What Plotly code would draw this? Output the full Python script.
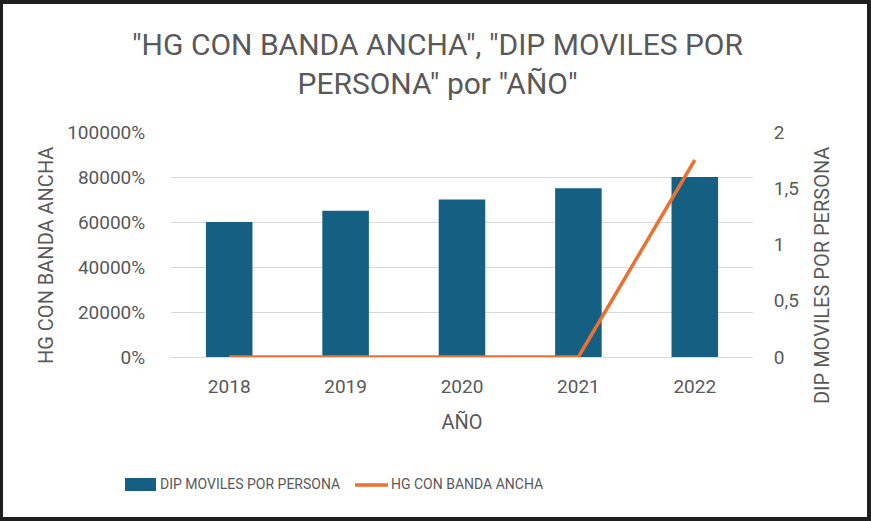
import plotly.graph_objects as go

# data
years = ["2018", "2019", "2020", "2021", "2022"]
dip_moviles = [1.2, 1.3, 1.4, 1.5, 1.6]       # right axis (bars)
hg_banda_ancha = [0, 0, 0, 0, 875.6]          # left axis, shown as percent (line)

bar_name = "DIP MOVILES POR PERSONA"
line_name = "HG CON BANDA ANCHA"
x_title = "AÑO"
chart_title = '"HG CON BANDA ANCHA", "DIP MOVILES POR<br>PERSONA" por "AÑO"'

W, H = 871, 521
L, R, T, B = 171, 118, 132, 164
TEXT = "#595959"
GRID = "#D9D9D9"
FONT = "Roboto"


def px_x(px):
    return (px - L) / (W - L - R)


def px_y(py):
    return (H - B - py) / (H - T - B)


fig = go.Figure()

fig.add_trace(go.Bar(
    x=years, y=dip_moviles, name=bar_name,
    marker=dict(color="#156082", line=dict(width=0)),
    yaxis="y",
))
fig.add_trace(go.Scatter(
    x=years, y=hg_banda_ancha, name=line_name, mode="lines",
    line=dict(color="#E97132", width=3.5),
    yaxis="y2",
))

# frame around the chart
shapes = [
    dict(type="rect", xref="paper", yref="paper", layer="below",
         x0=px_x(3), x1=px_x(867), y0=px_y(517), y1=px_y(4),
         fillcolor="white", line=dict(width=0)),
    # manual legend symbols
    dict(type="rect", xref="paper", yref="paper",
         x0=px_x(125), x1=px_x(156), y0=px_y(491), y1=px_y(478),
         fillcolor="#156082", line=dict(width=0)),
    dict(type="line", xref="paper", yref="paper",
         x0=px_x(355), x1=px_x(388), y0=px_y(485), y1=px_y(485),
         line=dict(color="#E97132", width=3.5)),
]

annotations = [
    dict(text=line_name, xref="paper", yref="paper", x=px_x(46), y=px_y(256),
         xanchor="center", yanchor="middle",
         textangle=-90, showarrow=False, font=dict(size=20, color=TEXT)),
    dict(text=bar_name, xref="paper", yref="paper", x=px_x(822), y=px_y(276),
         xanchor="center", yanchor="middle",
         textangle=-90, showarrow=False, font=dict(size=20, color=TEXT)),
    dict(text=bar_name, xref="paper", yref="paper", x=px_x(158), y=px_y(484),
         xanchor="left", yanchor="middle", showarrow=False, font=dict(size=14, color=TEXT)),
    dict(text=line_name, xref="paper", yref="paper", x=px_x(389), y=px_y(484),
         xanchor="left", yanchor="middle", showarrow=False, font=dict(size=14, color=TEXT)),
]

fig.update_layout(
    width=W, height=H,
    margin=dict(l=L, r=R, t=T, b=B),
    paper_bgcolor="#1e1e1e",
    plot_bgcolor="rgba(0,0,0,0)",
    font=dict(family=FONT, color=TEXT),
    separators=",.",
    showlegend=False,
    bargap=0.6,
    title=dict(text=chart_title, x=437.5 / W, xanchor="center", xref="container",
               y=1 - 55 / H, yanchor="middle", yref="container",
               font=dict(size=30, color=TEXT)),
    xaxis=dict(
        title=dict(text=x_title, font=dict(size=20, color=TEXT), standoff=18),
        tickfont=dict(size=19, color=TEXT),
        ticks="outside", ticklen=12, tickcolor="rgba(0,0,0,0)",
        showline=False, showgrid=False,
    ),
    yaxis=dict(
        side="right", range=[0, 2], dtick=0.5,
        tickfont=dict(size=19, color=TEXT),
        ticks="outside", ticklen=16, tickcolor="rgba(0,0,0,0)",
        showgrid=False, zeroline=False, showline=False,
    ),
    yaxis2=dict(
        side="left", overlaying="y", range=[0, 1000], dtick=200,
        tickformat=".0%",
        tickfont=dict(size=19, color=TEXT),
        ticks="outside", ticklen=21, tickcolor="rgba(0,0,0,0)",
        showgrid=True, gridcolor=GRID, gridwidth=1.3,
        zeroline=True, zerolinecolor=GRID, zerolinewidth=1.3, showline=False,
    ),
    shapes=shapes,
    annotations=annotations,
)

# page margin off so the 871x521 figure fills the window
fig.write_html("out.html", config={"displayModeBar": False},
               post_script="document.body.style.margin='0';document.body.style.overflow='hidden';")
